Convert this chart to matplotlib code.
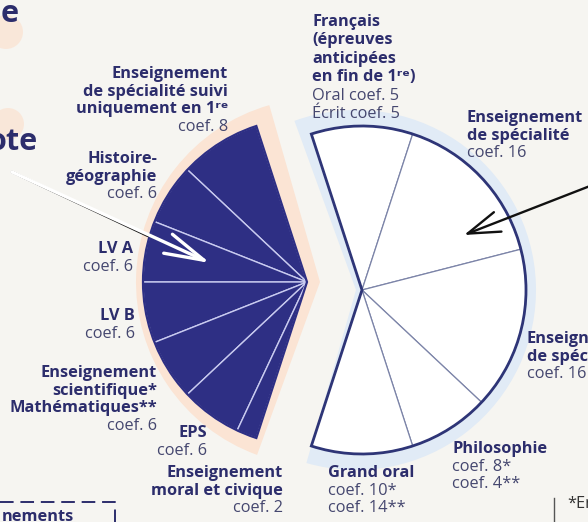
import matplotlib
matplotlib.use("Agg")
import matplotlib.pyplot as plt
from matplotlib.patches import Circle

W, H = 588, 522

# ---------------- data ----------------
left_coefs = [8, 6, 6, 6, 6, 6, 2]
left_titles = [
    ["Enseignement", "de spécialité suivi", "uniquement en 1ʳᵉ"],
    ["Histoire-", "géographie"],
    ["LV A"],
    ["LV B"],
    ["Enseignement", "scientifique*", "Mathématiques**"],
    ["EPS"],
    ["Enseignement", "moral et civique"],
]
right_coefs = [10, 16, 16, 8, 10]
right_titles = [
    ["Français", "(épreuves", "anticipées", "en fin de 1ʳᵉ)"],
    ["Enseignement", "de spécialité"],
    ["Enseign", "de spéc"],
    ["Philosophie"],
    ["Grand oral"],
]
francais_parts = ["Oral", "Écrit"]
francais_coefs = [5, 5]
philo_coefs = ["8*", "4**"]
grand_oral_coefs = ["10*", "14**"]
total_coef = 100

# ---------------- style ----------------
BG = "#f6f5f1"
NAVY = "#2e2f84"
TXT = "#2c2d6c"
TXT2 = "#45476f"
PEACH = "#fbe4d4"
BLUE = "#e1ebf6"
FONT = ["Open Sans", "DejaVu Sans"]
FS = 11.8

fig = plt.figure(figsize=(W / 100, H / 100), dpi=100, facecolor=BG)
ax = fig.add_axes([0, 0, 1, 1])
ax.set_facecolor(BG)

def Y(py):
    return H - py

lc = (307, Y(282))
rc = (362, Y(290))
R = 164

lf = [v / total_coef for v in left_coefs]
rf = [v / total_coef for v in right_coefs]

# halos
ax.pie([sum(lf)], radius=R + 20, center=(lc[0] + 13, lc[1]), startangle=106,
       counterclock=True, normalize=False, colors=[PEACH],
       wedgeprops=dict(linewidth=0), frame=True)
ax.pie([sum(rf)], radius=R + 16, center=(rc[0] - 6, rc[1]), startangle=110,
       counterclock=False, normalize=False, colors=[BLUE],
       wedgeprops=dict(linewidth=0), frame=True)

# left (navy) pie
ax.pie(lf, radius=R, center=lc, startangle=108, counterclock=True,
       normalize=False, colors=[NAVY] * len(lf),
       wedgeprops=dict(edgecolor="#c9cbf0", linewidth=1.0), frame=True)
ax.pie([sum(lf)], radius=R, center=lc, startangle=108, counterclock=True,
       normalize=False, colors=["none"],
       wedgeprops=dict(edgecolor=NAVY, linewidth=1.6, facecolor="none"), frame=True)

# right (white) pie
ax.pie(rf, radius=R, center=rc, startangle=108, counterclock=False,
       normalize=False, colors=["white"] * len(rf),
       wedgeprops=dict(edgecolor="#7c84a8", linewidth=0.9), frame=True)
ax.pie([sum(rf)], radius=R, center=rc, startangle=108, counterclock=False,
       normalize=False, colors=["none"],
       wedgeprops=dict(edgecolor="#2e3577", linewidth=2.0, facecolor="none"), frame=True)

# ---------------- labels ----------------
def block(x, y0, ha, bold_lines, reg_lines, step=17.7):
    y = y0
    for s in bold_lines:
        ax.text(x, Y(y + 5), s, ha=ha, va="baseline", fontsize=FS,
                fontweight="bold", color=TXT, family=FONT)
        y += step
    for s in reg_lines:
        ax.text(x, Y(y + 5), s, ha=ha, va="baseline", fontsize=FS,
                fontweight="normal", color=TXT2, family=FONT)
        y += step

left_pos = [(228, 73), (157, 158), (133, 248), (135, 315), (157, 372), (207, 432), (283, 472)]
for (x, y0), t, c in zip(left_pos, left_titles, left_coefs):
    block(x, y0, "right", t, [f"coef. {c}"])

block(312, 21, "left", right_titles[0],
      [f"{p} coef. {c}" for p, c in zip(francais_parts, francais_coefs)], step=18.4)
block(467, 117, "left", right_titles[1], [f"coef. {right_coefs[1]}"])
block(527, 338, "left", right_titles[2], [f"coef. {right_coefs[2]}"])
block(452, 448, "left", right_titles[3], [f"coef. {c}" for c in philo_coefs])
block(328, 472, "left", right_titles[4], [f"coef. {c}" for c in grand_oral_coefs])

# ---------------- decorations ----------------
ax.add_patch(Circle((6, Y(32)), 17, color=PEACH, lw=0, alpha=0.8, zorder=0.5))
ax.add_patch(Circle((8, Y(124)), 16, color=PEACH, lw=0, alpha=0.8, zorder=0.5))
ax.text(19, Y(22), "e", ha="right", va="baseline", fontsize=22, fontweight="bold",
        color=TXT, family=FONT)
ax.text(38, Y(150), "ote", ha="right", va="baseline", fontsize=22, fontweight="bold",
        color=TXT, family=FONT)

# arrows
ax.annotate("", xy=(210, Y(263)), xytext=(12, Y(172)),
            arrowprops=dict(arrowstyle="->,head_length=1.9,head_width=0.5",
                            color="white", lw=2.4, mutation_scale=15,
                            shrinkA=0, shrinkB=0))
ax.plot([12, 148], [Y(172), Y(236)], color="#111111", lw=1.8,
        solid_capstyle="round")
ax.annotate("", xy=(464, Y(235)), xytext=(590, Y(186)),
            arrowprops=dict(arrowstyle="->,head_length=1.55,head_width=0.5",
                            color="#111111", lw=1.7, mutation_scale=15,
                            shrinkA=0, shrinkB=0))

# dashed box bottom-left
ax.plot([0, 115, 115], [Y(502), Y(502), Y(522)], color=TXT, lw=1.4,
        linestyle=(0, (7, 3.5)))
ax.text(2, Y(521), "nements", ha="left", va="baseline", fontsize=FS,
        fontweight="bold", color=TXT, family=FONT)

# footnote at bottom right
ax.plot([554, 554], [Y(498), Y(522)], color="#555555", lw=1.0)
ax.text(567, Y(508), "*En", ha="left", va="baseline", fontsize=FS,
        color="#333333", family=FONT)

ax.set_xlim(0, W)
ax.set_ylim(0, H)
ax.set_aspect("equal")
ax.axis("off")
fig.savefig("out.png", dpi=100, facecolor=BG)
